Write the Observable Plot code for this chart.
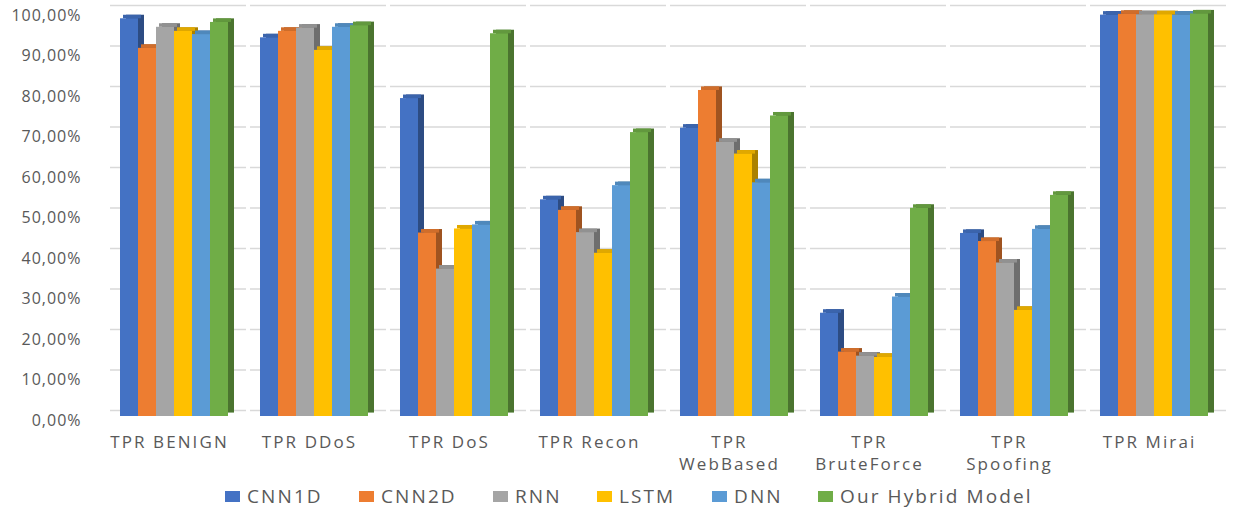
<!DOCTYPE html>
<html>
<head>
<meta charset="utf-8">
<script src="https://cdn.jsdelivr.net/npm/d3@7"></script>
<script src="https://cdn.jsdelivr.net/npm/@observablehq/plot@0.6"></script>
<style>
  html, body { margin: 0; padding: 0; background: #ffffff; }
  body { width: 1233px; height: 509px; overflow: hidden; font-family: "Open Sans", sans-serif; }
  #legend { position: relative; height: 31px; }
  .item { position: absolute; top: 0; height: 36px; display: flex; align-items: center; color: #595959; font-size: 19px; letter-spacing: 2.1px; white-space: nowrap; }
  .sw { width: 15px; height: 11px; margin-right: 7px; }
  svg g[aria-label="fx-axis tick label"] text { letter-spacing: 2.1px; }
  svg g[aria-label="y-axis tick label"] text { letter-spacing: 1px; }
</style>
</head>
<body>
<div id="chart"></div>
<div id="legend"></div>
<script>
const categories = ["TPR BENIGN", "TPR DDoS", "TPR DoS", "TPR Recon", "TPR WebBased", "TPR BruteForce", "TPR Spoofing", "TPR Mirai"];
const xTickLabels = ["TPR BENIGN", "TPR DDoS", "TPR DoS", "TPR Recon", "TPR\nWebBased", "TPR\nBruteForce", "TPR\nSpoofing", "TPR Mirai"];
const models = ["CNN1D", "CNN2D", "RNN", "LSTM", "DNN", "Our Hybrid Model"];
const colors = ["#4472C4", "#ED7D31", "#A5A5A5", "#FFC000", "#5B9BD5", "#70AD47"];

const cnn1d  = [98.2, 93.5, 78.5, 53.5, 71.2, 25.5, 45.2, 99.1];
const cnn2d  = [90.9, 95.1, 45.3, 50.9, 80.5, 15.9, 43.2, 99.3];
const rnn    = [96.1, 95.9, 36.4, 45.4, 67.7, 14.9, 37.9, 99.2];
const lstm   = [95.1, 90.4, 46.3, 40.3, 64.8, 14.6, 26.2, 99.2];
const dnn    = [94.3, 96.1, 47.3, 57.0, 57.7, 29.5, 46.2, 99.1];
const hybrid = [97.3, 96.5, 94.5, 70.1, 74.2, 51.4, 54.6, 99.4];

const yTicks = [0, 10, 20, 30, 40, 50, 60, 70, 80, 90, 100];

const series = [cnn1d, cnn2d, rnn, lstm, dnn, hybrid];
const data = categories.flatMap((c, i) => models.map((m, j) => ({category: c, model: m, value: series[j][i]})));

const fmt = d => d.toFixed(2).replace(".", ",") + "%";

const chart = Plot.plot({
  width: 1233,
  height: 478,
  marginTop: 11,
  marginBottom: 62,
  marginLeft: 104,
  marginRight: 9,
  style: {fontFamily: "'Open Sans', sans-serif", color: "#595959", background: "#ffffff"},
  fx: {domain: categories, paddingInner: 0.2, paddingOuter: 0.1, label: null},
  x: {domain: models, padding: 0, axis: null},
  y: {domain: [0, 100], label: null},
  color: {domain: models, range: colors},
  marks: [
    Plot.ruleY(yTicks, {y: d => d, stroke: "#d9d9d9", strokeWidth: 1.3, dy: -6, insetLeft: -8, insetRight: -16}),
    // side faces
    Plot.barY(data, {fx: "category", x: "model", y1: 0, y2: "value", fill: "model", dx: 6, dy: -3.5}),
    Plot.barY(data, {fx: "category", x: "model", y1: 0, y2: "value", fill: "black", fillOpacity: 0.33, dx: 6, dy: -3.5}),
    // top faces
    Plot.barY(data, {fx: "category", x: "model", y1: "value", y2: "value", insetTop: -3.5, fill: "model", dx: 3}),
    Plot.barY(data, {fx: "category", x: "model", y1: "value", y2: "value", insetTop: -3.5, fill: "black", fillOpacity: 0.12, dx: 3}),
    // front faces
    Plot.barY(data, {fx: "category", x: "model", y1: 0, y2: "value", fill: "model"}),
    Plot.axisY({ticks: yTicks, tickFormat: fmt, tickSize: 0, tickPadding: 37, dy: 4, fontSize: 16, label: null}),
    Plot.axisFx({anchor: "bottom", tickSize: 0, tickPadding: 16, dx: -5, fontSize: 17, lineHeight: 1.3,
      tickFormat: d => xTickLabels[categories.indexOf(d)], label: null})
  ]
});
document.getElementById("chart").appendChild(chart);

const legendLeft = [225, 359, 493, 597, 712, 818];
const legend = document.getElementById("legend");
models.forEach((m, i) => {
  const it = document.createElement("div");
  it.className = "item";
  it.style.left = legendLeft[i] + "px";
  const sw = document.createElement("span");
  sw.className = "sw";
  sw.style.background = colors[i];
  it.appendChild(sw);
  it.appendChild(document.createTextNode(m));
  legend.appendChild(it);
});
</script>
</body>
</html>
